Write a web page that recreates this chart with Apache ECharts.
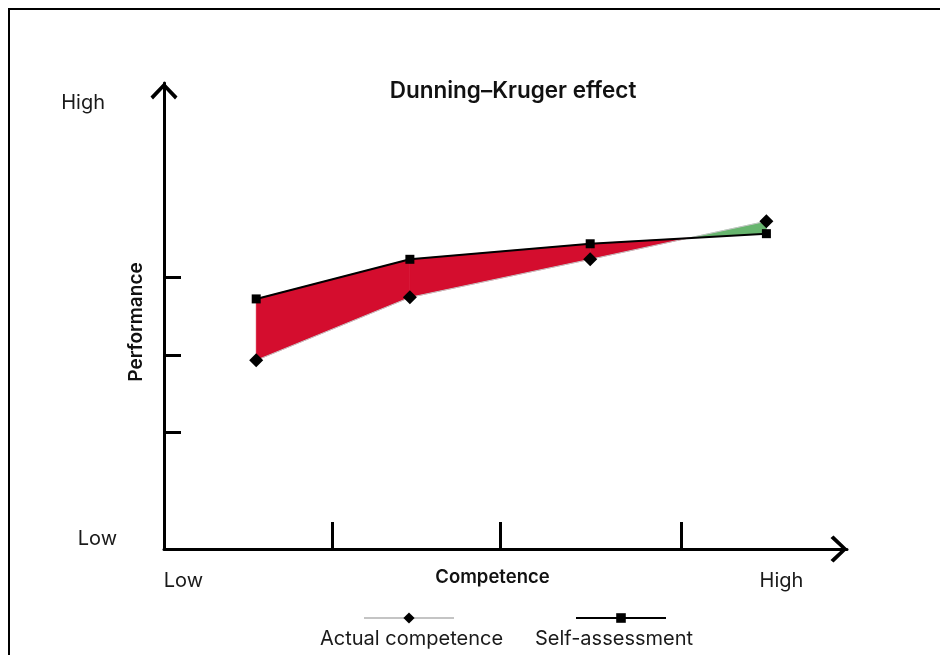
<!DOCTYPE html>
<html>
<head>
<meta charset="utf-8">
<script src="https://cdn.jsdelivr.net/npm/echarts@6/dist/echarts.min.js"></script>
<style>
html,body{margin:0;padding:0;background:#fff;}
#chart{width:940px;height:655px;}
</style>
</head>
<body>
<div id="chart"></div>
<script>
// ---- data ----
var competence = [1.35, 3.60, 6.24, 8.82];
var actualCompetence = [2.43, 3.24, 3.73, 4.22];
var selfAssessment = [3.22, 3.73, 3.93, 4.06];
var seriesNames = ['Actual competence', 'Self-assessment'];
var xEndLabels = ['Low', 'High'];
var yEndLabels = ['Low', 'High'];
var titleText = 'Dunning\u2013Kruger effect';
var xAxisName = 'Competence';
var yAxisName = 'Performance';

var FONT = 'Inter, Roboto, sans-serif';
var RED = '#D40D2E';
var GREEN = '#67B56E';

var chevron = 'path://M13.5,0 L27,14 L24.5,17 L13.5,5.2 L2.5,17 L0,14 Z';

var segData = [];
for (var i = 0; i < competence.length - 1; i++) {
  segData.push([competence[i], actualCompetence[i], selfAssessment[i],
                competence[i + 1], actualCompetence[i + 1], selfAssessment[i + 1]]);
}

function renderGap(params, api) {
  var A0 = api.coord([api.value(0), api.value(1)]);
  var S0 = api.coord([api.value(0), api.value(2)]);
  var A1 = api.coord([api.value(3), api.value(4)]);
  var S1 = api.coord([api.value(3), api.value(5)]);
  var d0 = api.value(2) - api.value(1);
  var d1 = api.value(5) - api.value(4);
  var children = [];
  function poly(pts, d) {
    children.push({type: 'polygon', shape: {points: pts},
      style: {fill: d >= 0 ? RED : GREEN, stroke: d >= 0 ? RED : GREEN, lineWidth: 0.5}});
  }
  if (d0 * d1 >= 0) {
    poly([A0, A1, S1, S0], d0 + d1);
  } else {
    var p0 = S0[1] - A0[1], p1 = S1[1] - A1[1];
    var t = p0 / (p0 - p1);
    var P = [A0[0] + t * (A1[0] - A0[0]), A0[1] + t * (A1[1] - A0[1])];
    poly([A0, P, S0], d0);
    poly([P, A1, S1], d1);
  }
  return {type: 'group', children: children};
}

var chart = echarts.init(document.getElementById('chart'), null, {renderer: 'canvas'});
chart.setOption({
  animation: false,
  backgroundColor: '#fff',
  textStyle: {fontFamily: FONT},
  title: {
    text: titleText, left: 508, top: 75, textAlign: 'center',
    textStyle: {fontFamily: FONT, fontSize: 22.5, fontWeight: 600, color: '#111'}
  },
  graphic: [{
    type: 'rect', silent: true,
    shape: {x: 9, y: 9, width: 1000, height: 1000},
    style: {fill: 'none', stroke: '#000', lineWidth: 2}
  }],
  grid: {left: 164, right: 93, top: 83, bottom: 106, containLabel: false},
  xAxis: {
    type: 'value', min: 0, max: 10,
    splitLine: {show: false},
    axisLine: {show: true, lineStyle: {color: '#000', width: 3},
      symbol: ['none', chevron], symbolSize: [27, 17], symbolOffset: [0, -8]},
    axisTick: {show: true, inside: true, length: 27, lineStyle: {color: '#000', width: 3},
      customValues: [2.47, 4.93, 7.57]},
    axisLabel: {show: true, customValues: [0.285, 9.04], margin: 22,
      fontFamily: FONT, fontSize: 20, color: '#1a1a1a',
      formatter: function (v) { return v < 5 ? xEndLabels[0] : xEndLabels[1]; }},
    name: xAxisName, nameLocation: 'middle', nameGap: 19, nameMoveOverlap: false,
    nameTextStyle: {fontFamily: FONT, fontSize: 18.5, fontWeight: 600, color: '#111', padding: [0, 26, 0, 0]}
  },
  yAxis: {
    type: 'value', min: 0, max: 6,
    splitLine: {show: false},
    axisLine: {show: true, lineStyle: {color: '#000', width: 3},
      symbol: ['none', chevron], symbolSize: [27, 17], symbolOffset: [0, -8]},
    axisTick: {show: true, inside: true, length: 17, lineStyle: {color: '#000', width: 3},
      customValues: [1.5, 2.5, 3.5]},
    axisLabel: {show: true, customValues: [0.13, 5.745], margin: 47, align: 'right',
      fontFamily: FONT, fontSize: 20, color: '#1a1a1a',
      formatter: function (v) { return v < 3 ? '{l|' + yEndLabels[0] + '}' : '{h|' + yEndLabels[1] + '}'; },
      rich: {l: {fontFamily: FONT, fontSize: 20, color: '#1a1a1a'},
             h: {fontFamily: FONT, fontSize: 20, color: '#1a1a1a', padding: [0, 12, 0, 0]}}},
    name: yAxisName, nameLocation: 'middle', nameGap: 18, nameRotate: 90, nameMoveOverlap: false,
    nameTextStyle: {fontFamily: FONT, fontSize: 19, fontWeight: 600, color: '#111', padding: [0, 12, 0, 0]}
  },
  legend: [
    {data: [seriesNames[0]], left: 363, top: 611, padding: 0, itemWidth: 90, itemHeight: 14,
      formatter: function () { return ''; }, selectedMode: false},
    {data: [seriesNames[1]], left: 575, top: 612, padding: 0, itemWidth: 90, itemHeight: 12,
      formatter: function () { return ''; }, selectedMode: false},
    {data: [{name: seriesNames[0], icon: 'none'}], left: 315, top: 629, padding: 0, itemWidth: 0, itemHeight: 20,
      selectedMode: false, textStyle: {fontFamily: FONT, fontSize: 20, color: '#1a1a1a'}},
    {data: [{name: seriesNames[1], icon: 'none'}], left: 530, top: 629, padding: 0, itemWidth: 0, itemHeight: 20,
      selectedMode: false, textStyle: {fontFamily: FONT, fontSize: 20, color: '#1a1a1a'}}
  ],
  series: [
    {
      type: 'custom', name: 'gap', renderItem: renderGap, data: segData, z: 1, silent: true,
      encode: {x: [0, 3], y: [1, 2, 4, 5]}
    },
    {
      type: 'line', name: seriesNames[0], z: 3,
      data: competence.map(function (c, i) { return [c, actualCompetence[i]]; }),
      symbol: 'diamond', symbolSize: 14, showSymbol: true,
      lineStyle: {color: '#c4c4c4', width: 1},
      itemStyle: {color: '#000'}
    },
    {
      type: 'line', name: seriesNames[1], z: 4,
      data: competence.map(function (c, i) { return [c, selfAssessment[i]]; }),
      symbol: 'rect', symbolSize: 9, showSymbol: true,
      lineStyle: {color: '#000', width: 2},
      itemStyle: {color: '#000'}
    }
  ]
});
</script>
</body>
</html>
